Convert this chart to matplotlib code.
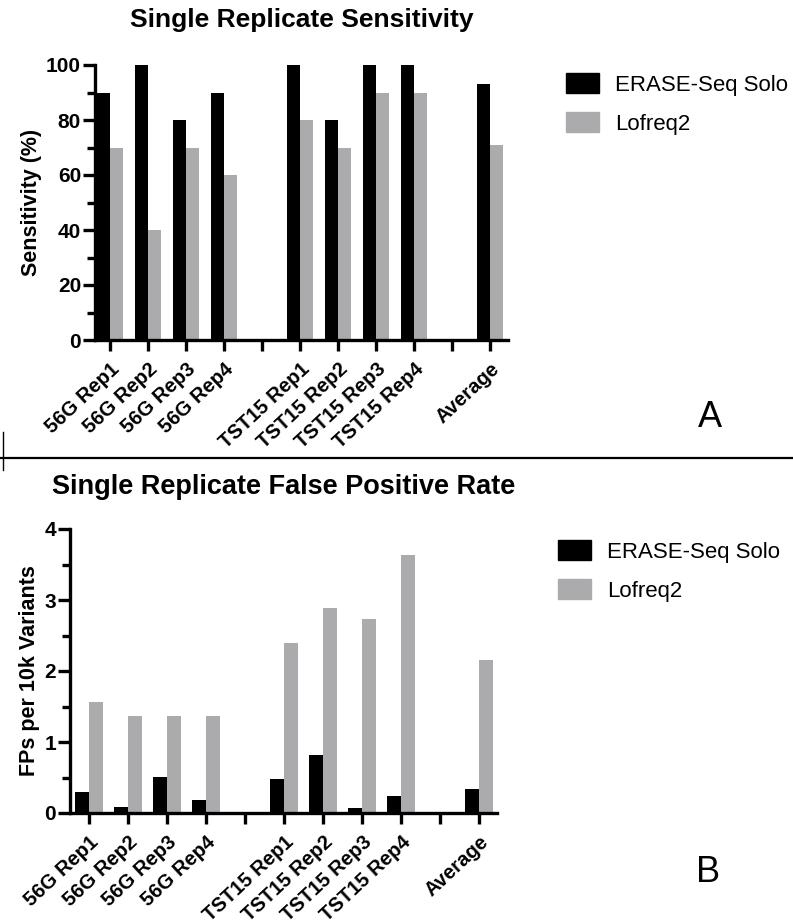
import numpy as np
import matplotlib
matplotlib.use("Agg")
import matplotlib.pyplot as plt
from matplotlib.patches import Patch
from matplotlib.lines import Line2D

plt.rcParams["font.family"] = ["Liberation Sans", "DejaVu Sans"]

# --------------------------------------------------------------------------- #
# Data                                                                        #
# --------------------------------------------------------------------------- #
categories = ["56G Rep1", "56G Rep2", "56G Rep3", "56G Rep4", "",
              "TST15 Rep1", "TST15 Rep2", "TST15 Rep3", "TST15 Rep4", "",
              "Average"]
series_names = ["ERASE-Seq Solo", "Lofreq2"]

sens_erase = [90, 100, 80, 90, None, 100, 80, 100, 100, None, 93]
sens_lofreq = [70, 40, 70, 60, None, 80, 70, 90, 90, None, 71]

fpr_erase = [0.30, 0.09, 0.51, 0.19, None, 0.48, 0.82, 0.07, 0.24, None, 0.34]
fpr_lofreq = [1.57, 1.36, 1.36, 1.36, None, 2.40, 2.89, 2.73, 3.64, None, 2.16]

BLACK = "#000000"
GREY = "#ababad"
W, H = 793, 924


def to_arr(vals):
    return np.array([np.nan if v is None else v for v in vals], dtype=float)


def px_axes(fig, left, top, right, bottom):
    return fig.add_axes([left / W, 1 - bottom / H, (right - left) / W,
                         (bottom - top) / H])


def draw_panel(ax, erase, lofreq, ymax, major, minor, ylabel, title, xlim,
               title_size, title_pad):
    x = np.arange(len(categories))
    bw = 0.35
    ax.bar(x - bw / 2, to_arr(erase), bw, color=BLACK, linewidth=0)
    ax.bar(x + bw / 2, to_arr(lofreq), bw, color=GREY, linewidth=0)
    ax.set_xlim(*xlim)
    ax.set_ylim(0, ymax)
    ax.set_yticks(np.arange(0, ymax + 1e-9, major))
    ax.set_yticks(np.arange(0, ymax + 1e-9, minor), minor=True)
    ax.set_yticklabels([f"{v:g}" for v in np.arange(0, ymax + 1e-9, major)],
                       fontsize=15, fontweight="bold")
    ax.set_xticks(x)
    ax.set_xticklabels(categories, rotation=43, ha="right",
                       rotation_mode="anchor", fontsize=14.5,
                       fontweight="bold")
    ax.set_ylabel(ylabel, fontsize=15.5, fontweight="bold", labelpad=3)
    ax.set_title(title, fontsize=title_size, fontweight="bold", pad=title_pad)
    for s in ("top", "right"):
        ax.spines[s].set_visible(False)
    for s in ("left", "bottom"):
        ax.spines[s].set_linewidth(2.4)
    ax.tick_params(axis="y", which="major", length=9, width=2.4, pad=1)
    ax.tick_params(axis="y", which="minor", length=6, width=2.4)
    ax.tick_params(axis="x", which="major", length=8, width=2.4, pad=6)


fig = plt.figure(figsize=(W / 100, H / 100), dpi=100)

ax1 = px_axes(fig, 95, 65, 508, 340)
draw_panel(ax1, sens_erase, sens_lofreq, 100, 20, 10, "Sensitivity (%)",
           "Single Replicate Sensitivity", (-0.4, 10.47), 19, 27)

ax2 = px_axes(fig, 70, 529, 497, 813)
draw_panel(ax2, fpr_erase, fpr_lofreq, 4, 1, 0.5, "FPs per 10k Variants",
           "Single Replicate False Positive Rate", (-0.49, 10.46), 19.5, 25)

handles = [Patch(color=BLACK, label=series_names[0]),
           Patch(color=GREY, label=series_names[1])]
for anchor in [(566 / W, 1 - 73 / H), (558 / W, 1 - 540 / H)]:
    fig.legend(handles=handles, loc="upper left", bbox_to_anchor=anchor,
               frameon=False, fontsize=16, handlelength=1.5, handleheight=1.0,
               handletextpad=0.7, labelspacing=0.75, borderpad=0,
               borderaxespad=0)

fig.text(710 / W, 1 - 418 / H, "A", fontsize=26, ha="center", va="center")
fig.text(708 / W, 1 - 873 / H, "B", fontsize=26, ha="center", va="center")

# separator between panels
fig.add_artist(Line2D([0, 1], [1 - 458 / H, 1 - 458 / H], color="black",
                      linewidth=1.6, transform=fig.transFigure))
fig.add_artist(Line2D([3 / W, 3 / W], [1 - 432 / H, 1 - 470 / H],
                      color="black", linewidth=1.0, transform=fig.transFigure))

fig.savefig("out.png", dpi=100)
